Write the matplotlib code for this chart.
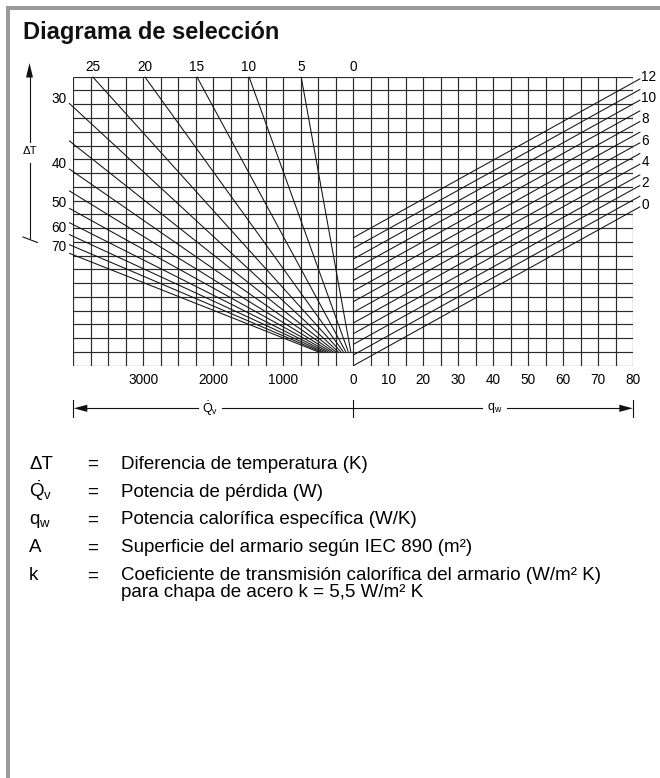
import numpy as np
import matplotlib
matplotlib.use('Agg')
import matplotlib.pyplot as plt
from matplotlib.patches import Rectangle, Polygon

plt.rcParams['font.family'] = ['Liberation Sans', 'DejaVu Sans']
plt.rcParams['mathtext.fontset'] = 'custom'
plt.rcParams['mathtext.rm'] = 'Liberation Sans'
plt.rcParams['mathtext.it'] = 'Liberation Sans:italic'
plt.rcParams['mathtext.bf'] = 'Liberation Sans:bold'

# ---------------- data ----------------
delta_T = [0, 5, 10, 15, 20, 25, 30, 35, 40, 45, 50, 55, 60, 65, 70]
delta_T_top_labels = [0, 5, 10, 15, 20, 25]
delta_T_side_labels = [30, 40, 50, 60, 70]
areas = [0, 1, 2, 3, 4, 5, 6, 7, 8, 9, 10, 11, 12]
area_labels = [0, 2, 4, 6, 8, 10, 12]
k_steel = 5.5
qv_ticks = [3000, 2000, 1000]
qw_ticks = [0, 10, 20, 30, 40, 50, 60, 70, 80]
QV_MAX = 4000
QV_STEP = 250
QW_MAX = 80
QW_STEP = 5
U_MAX = 149          # intermediate scale (W/K) at top of grid
N_ROWS = 21

legend_symbols = ['ΔT', r'$\dot{\mathrm{Q}}_{\mathrm{v}}$', r'$\mathrm{q_w}$', 'A', 'k']
legend_texts = ['Diferencia de temperatura (K)',
                'Potencia de pérdida (W)',
                'Potencia calorífica específica (W/K)',
                'Superficie del armario según IEC 890 (m²)',
                'Coeficiente de transmisión calorífica del armario (W/m² K)']
legend_extra = 'para chapa de acero k = %s W/m² K' % ('%.1f' % k_steel).replace('.', ',')

# ---------------- figure ----------------
W, H = 660, 778
fig = plt.figure(figsize=(W / 100, H / 100), dpi=100)

# overlay in pixel coordinates (decorations)
ov = fig.add_axes([0, 0, 1, 1], zorder=0)
ov.set_xlim(0, W)
ov.set_ylim(H, 0)
ov.axis('off')

GRID_C = '#2b2b2b'
LINE_C = '#111111'
GLW = 0.85
LLW = 0.75

gx0, gx1, gx2 = 73.3, 353.3, 633.3
gy0, gy1 = 76.7, 365.7
axL = fig.add_axes([gx0 / W, 1 - gy1 / H, (gx1 - gx0) / W, (gy1 - gy0) / H], zorder=2)
axR = fig.add_axes([gx1 / W, 1 - gy1 / H, (gx2 - gx1) / W, (gy1 - gy0) / H], zorder=2)
for ax in (axL, axR):
    ax.patch.set_alpha(0)
    for s in ax.spines.values():
        s.set_visible(False)
    ax.set_ylim(0, U_MAX)
    ax.set_yticks([])
    ax.tick_params(axis='x', length=0, pad=5.5, labelsize=9.8)
axL.set_xlim(QV_MAX, 0)
axR.set_xlim(0, QW_MAX)

rows = np.linspace(0, U_MAX, N_ROWS + 1)
# grid
axL.vlines(np.arange(0, QV_MAX + 1, QV_STEP), 0, U_MAX, color=GRID_C, lw=GLW)
axL.hlines(rows, 0, QV_MAX, color=GRID_C, lw=GLW)
axR.vlines(np.arange(0, QW_MAX + 1, QW_STEP), 0, U_MAX, color=GRID_C, lw=GLW)
axR.hlines(rows, 0, QW_MAX, color=GRID_C, lw=GLW)

axL.set_xticks(qv_ticks)
axL.set_xticklabels([str(v) for v in qv_ticks])
axR.set_xticks(qw_ticks)
axR.set_xticklabels([str(v) for v in qw_ticks])

# delta T fan lines (Qv = u * dT)
u_start = U_MAX / N_ROWS
for dT in delta_T:
    if dT == 0:
        continue
    q_top = dT * U_MAX
    if q_top <= QV_MAX:
        q_end, u_end = q_top, U_MAX
    else:
        q_end = QV_MAX + 60
        u_end = q_end / dT
    axL.plot([dT * u_start, q_end], [u_start, u_end], color=LINE_C, lw=LLW,
             clip_on=False, solid_capstyle='butt')

for dT in delta_T_top_labels:
    axL.annotate(str(dT), (dT * U_MAX, U_MAX), xytext=(0, 2.5),
                 textcoords='offset pixels', ha='center', va='bottom', fontsize=9.8)
for dT in delta_T_side_labels:
    axL.annotate(str(dT), (QV_MAX, QV_MAX / dT), xytext=(-7, 8),
                 textcoords='offset pixels', ha='right', va='center', fontsize=9.8)

# area lines (qw = u - k*A)
qw_end = QW_MAX + 2
for A in areas:
    axR.plot([0, qw_end], [k_steel * A, qw_end + k_steel * A], color=LINE_C,
             lw=LLW, clip_on=False, solid_capstyle='butt')
for A in area_labels:
    axR.annotate(str(A), (QW_MAX, QW_MAX + k_steel * A), xytext=(8, 6),
                 textcoords='offset pixels', ha='left', va='center', fontsize=9.8)

# ---------------- decorations ----------------
# frame
ov.add_patch(Rectangle((6, 6), W - 6, 4, color='#9a9a9a', lw=0))
ov.add_patch(Rectangle((6, 6), 4, H - 6, color='#9a9a9a', lw=0))

ov.text(23, 38.5, 'Diagrama de selección', fontsize=17, fontweight='bold',
        ha='left', va='baseline', color='#111111')

# delta T arrow at left
ax_x = 29.5
ov.plot([ax_x, ax_x], [76, 141.5], color='#111111', lw=0.8)
ov.plot([ax_x, ax_x], [163, 237.5], color='#111111', lw=0.8)
ov.plot([23, 37.5], [237, 242.5], color='#111111', lw=0.8)
ov.add_patch(Polygon([(ax_x, 63), (ax_x - 3.5, 77.5), (ax_x + 3.5, 77.5)],
                     closed=True, color='#111111', lw=0))
ov.text(ax_x, 151, 'ΔT', fontsize=8.2, ha='center', va='center')

# dimension line below
dy = 408.3
for xx in (gx0, gx1, gx2):
    ov.plot([xx, xx], [399.5, 416.5], color='#111111', lw=0.8)
ov.plot([gx0 + 13, 198], [dy, dy], color='#111111', lw=0.8)
ov.plot([222, gx1], [dy, dy], color='#111111', lw=0.8)
ov.plot([gx1, 482], [dy, dy], color='#111111', lw=0.8)
ov.plot([507, gx2 - 13], [dy, dy], color='#111111', lw=0.8)
ov.add_patch(Polygon([(gx0 + 0.5, dy), (gx0 + 14, dy - 3.6), (gx0 + 14, dy + 3.6)],
                     closed=True, color='#111111', lw=0))
ov.add_patch(Polygon([(gx2 - 0.5, dy), (gx2 - 14, dy - 3.6), (gx2 - 14, dy + 3.6)],
                     closed=True, color='#111111', lw=0))
ov.text(210, dy, r'$\dot{\mathrm{Q}}_{\mathrm{v}}$', fontsize=9, ha='center', va='center')
ov.text(494.5, dy, r'$\mathrm{q_w}$', fontsize=9, ha='center', va='center')

# legend
base0 = 468.5
step = 28
LFS = 13.5
for i, (sym, txt) in enumerate(zip(legend_symbols, legend_texts)):
    yb = base0 + i * step
    ov.text(29, yb, sym, fontsize=LFS, ha='left', va='baseline')
    ov.text(93, yb, '=', fontsize=LFS, ha='center', va='baseline')
    ov.text(121, yb, txt, fontsize=LFS, ha='left', va='baseline')
ov.text(121, base0 + 4 * step + 16.5, legend_extra, fontsize=LFS, ha='left', va='baseline')

fig.savefig('out.png', dpi=100)
